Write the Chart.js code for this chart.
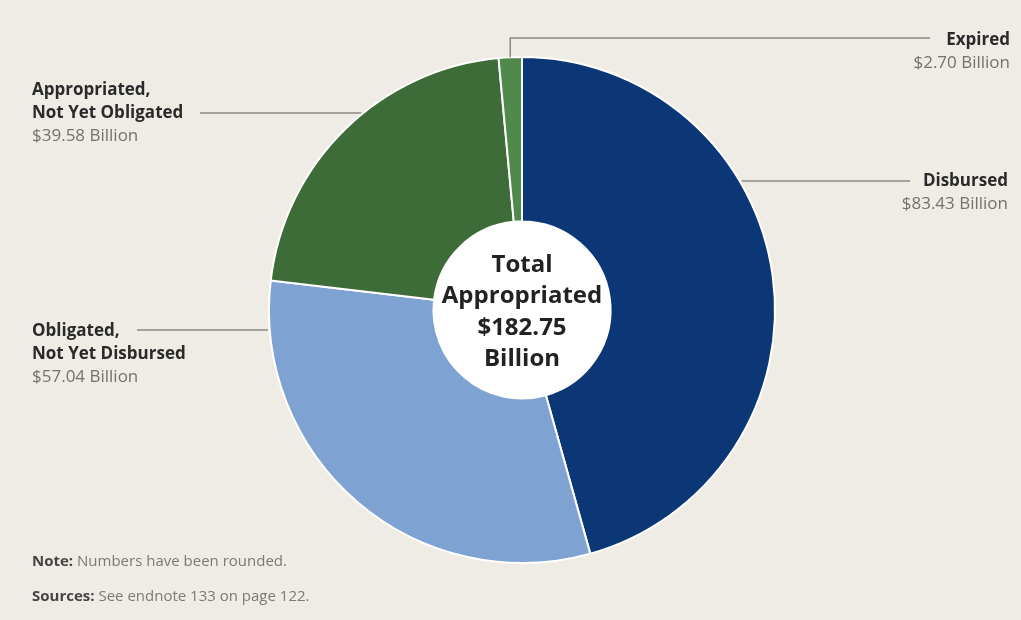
<!DOCTYPE html>
<html>
<head>
<meta charset="utf-8">
<script src="https://cdn.jsdelivr.net/npm/chart.js@4.4.0/dist/chart.umd.min.js"></script>
<style>
  html, body { margin: 0; padding: 0; background: #eeece5; }
  #wrap { position: relative; width: 1021px; height: 620px; }
</style>
</head>
<body>
<div id="wrap"><canvas id="chart" width="1021" height="620"></canvas></div>
<script>
// 予算の内訳（単位：十億ドル）
var categories = ['Disbursed', 'Obligated, Not Yet Disbursed', 'Appropriated, Not Yet Obligated', 'Expired'];
var values = [83.43, 57.04, 39.58, 2.70];
var colors = ['#0c3776', '#7ea2d2', '#3d6c38', '#4f8a4c'];
var totalLabel = ['Total', 'Appropriated', '$182.75', 'Billion'];

// ラベル（行ごと、最後の行は金額）
var labelLines = [
  ['Disbursed', '$83.43 Billion'],
  ['Obligated,', 'Not Yet Disbursed', '$57.04 Billion'],
  ['Appropriated,', 'Not Yet Obligated', '$39.58 Billion'],
  ['Expired', '$2.70 Billion']
];

var FONT = '"Open Sans", "Noto Sans", sans-serif';

//中央の白い円と文字
var centerPlugin = {
  id: 'center',
  beforeDatasetsDraw: function(chart) {
    var arc = chart.getDatasetMeta(0).data[0];
    var c = chart.ctx;
    c.save();
    c.beginPath();
    c.arc(arc.x, arc.y, arc.innerRadius + 1, 0, Math.PI * 2);
    c.fillStyle = '#ffffff';
    c.fill();
    c.restore();
  },
  afterDatasetsDraw: function(chart) {
    var arc = chart.getDatasetMeta(0).data[0];
    var c = chart.ctx;
    c.save();
    c.fillStyle = '#222222';
    c.font = 'bold 24px ' + FONT;
    c.textAlign = 'center';
    c.textBaseline = 'middle';
    totalLabel.forEach(function(t, i) {
      c.fillText(t, arc.x, arc.y - 45 + i * 31.5);
    });
    c.restore();
  }
};

//引き出し線とラベル
var leaderPlugin = {
  id: 'leaders',
  afterDraw: function(chart) {
    var meta = chart.getDatasetMeta(0);
    var c = chart.ctx;
    var cx = meta.data[0].x, cy = meta.data[0].y, r = meta.data[0].outerRadius;
    c.save();
    c.lineWidth = 1.5;
    c.strokeStyle = '#8a8a84';

    function edgeX(y, side) {
      var dy = y - cy;
      var dx = Math.sqrt(Math.max(r * r - dy * dy, 0));
      return cx + side * dx;
    }

    // Disbursed
    c.beginPath();
    c.moveTo(edgeX(181, 1) + 2, 181);
    c.lineTo(910, 181);
    c.stroke();

    // Expired: 円弧の中央から上へ
    var ex = meta.data[3];
    var mid = (ex.startAngle + ex.endAngle) / 2;
    var px = cx + Math.cos(mid) * r;
    var py = cy + Math.sin(mid) * r;
    c.beginPath();
    c.moveTo(px, py);
    c.lineTo(px, 38);
    c.lineTo(930, 38);
    c.stroke();

    // Appropriated, Not Yet Obligated
    c.beginPath();
    c.moveTo(200, 113);
    c.lineTo(edgeX(113, -1) - 2, 113);
    c.stroke();

    // Obligated, Not Yet Disbursed
    c.beginPath();
    c.moveTo(137, 330);
    c.lineTo(edgeX(330, -1) - 2, 330);
    c.stroke();

    function drawLabel(lines, x, y, align) {
      c.textAlign = align;
      c.textBaseline = 'middle';
      lines.forEach(function(t, i) {
        var last = i === lines.length - 1;
        c.font = (last ? '' : 'bold ') + '17px ' + FONT;
        c.fillStyle = last ? '#727270' : '#2a2a2a';
        c.fillText(t, x, y + i * 23);
      });
    }
    drawLabel(labelLines[0], 1008, 181, 'right');
    drawLabel(labelLines[3], 1010, 40, 'right');
    drawLabel(labelLines[2], 32, 90, 'left');
    drawLabel(labelLines[1], 32, 331, 'left');

    // 注記
    c.textAlign = 'left';
    c.fillStyle = '#444';
    c.font = 'bold 15px ' + FONT;
    c.fillText('Note:', 32, 562);
    var w1 = c.measureText('Note: ').width;
    c.fillText('Sources:', 32, 597);
    var w2 = c.measureText('Sources: ').width;
    c.font = '15px ' + FONT;
    c.fillStyle = '#7a7a76';
    c.fillText('Numbers have been rounded.', 32 + w1, 562);
    c.fillText('See endnote 133 on page 122.', 32 + w2, 597);
    c.restore();
  }
};

var chart = new Chart(document.getElementById('chart'), {
  type: 'doughnut',
  data: {
    labels: categories,
    datasets: [{
      data: values,
      backgroundColor: colors,
      borderColor: '#ffffff',
      borderWidth: 2
    }]
  },
  options: {
    responsive: false,
    animation: false,
    cutout: '35%',
    rotation: 0,
    layout: {
      padding: { left: 268, right: 245, top: 56, bottom: 56 }
    },
    plugins: {
      legend: { display: false },
      tooltip: { enabled: false }
    }
  },
  plugins: [centerPlugin, leaderPlugin]
});
</script>
</body>
</html>
